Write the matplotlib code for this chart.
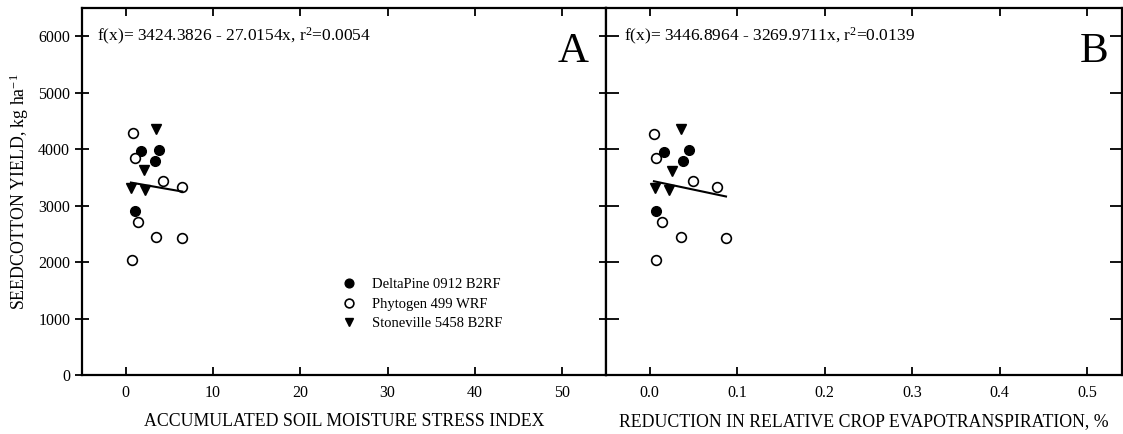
import matplotlib
matplotlib.use('Agg')
import matplotlib.pyplot as plt
import numpy as np

plt.rcParams['font.family'] = ['Liberation Serif', 'DejaVu Serif']
plt.rcParams['mathtext.fontset'] = 'custom'
plt.rcParams['mathtext.rm'] = 'Liberation Serif'
plt.rcParams['mathtext.it'] = 'Liberation Serif:italic'

# Data
# panel A: accumulated soil moisture stress index
dp_asmsi = [1.7, 3.8, 3.35, 1.1]
dp_yield_a = [3959, 3989, 3789, 2907]
ph_asmsi = [0.8, 1.07, 4.23, 6.48, 1.45, 3.5, 6.4, 0.69]
ph_yield_a = [4283, 3842, 3436, 3336, 2718, 2436, 2424, 2035]
st_asmsi = [3.43, 2.13, 0.6, 2.25]
st_yield_a = [4354, 3630, 3306, 3277]

# panel B: reduction in relative crop ET
dp_ret = [0.0165, 0.0447, 0.0382, 0.0066]
dp_yield_b = [3954, 3989, 3789, 2907]
ph_ret = [0.0048, 0.0071, 0.049, 0.0766, 0.0146, 0.0363, 0.0872, 0.0074]
ph_yield_b = [4277, 3836, 3436, 3336, 2718, 2436, 2424, 2035]
st_ret = [0.0363, 0.0249, 0.0059, 0.0226]
st_yield_b = [4354, 3618, 3306, 3277]

# regression fits (intercept, slope, r2)
fit_a = (3424.3826, -27.0154, 0.0054)
fit_b = (3446.8964, -3269.9711, 0.0139)

cultivars = ['DeltaPine 0912 B2RF', 'Phytogen 499 WRF', 'Stoneville 5458 B2RF']

W, H = 1123, 434
fig = plt.figure(figsize=(W / 100, H / 100), dpi=100)
ax1 = fig.add_axes([82 / W, 59 / H, 524 / W, 367 / H])
ax2 = fig.add_axes([606 / W, 59 / H, 516 / W, 367 / H])

ms = 7
panels = [
    (ax1, dp_asmsi, dp_yield_a, ph_asmsi, ph_yield_a, st_asmsi, st_yield_a, fit_a),
    (ax2, dp_ret, dp_yield_b, ph_ret, ph_yield_b, st_ret, st_yield_b, fit_b),
]
for ax, dx, dy, px, py, sx, sy, fit in panels:
    ax.plot(dx, dy, 'o', color='black', ms=ms, ls='none', label=cultivars[0])
    ax.plot(px, py, 'o', mfc='white', mec='black', mew=1.2, ms=ms, ls='none', label=cultivars[1])
    ax.plot(sx, sy, 'v', color='black', ms=ms, ls='none', label=cultivars[2])
    allx = np.array(dx + px + sx)
    xl = np.array([allx.min(), allx.max()])
    ax.plot(xl, fit[0] + fit[1] * xl, color='black', lw=1.5)
    ax.set_ylim(0, 6500)
    ax.set_yticks(range(0, 7000, 1000))
    for s in ax.spines.values():
        s.set_linewidth(1.6)
    ax.tick_params(axis='both', which='both', direction='in', length=6, width=1.3,
                   top=True, right=True, labelsize=11.5)
    ax.tick_params(axis='x', pad=7)
    ax.tick_params(axis='y', which='both', length=9)
    ax.text(0.029 if ax is ax1 else 0.035, 6000,
            'f(x)= %.4f - %.4fx, r$^{2}$=%.4f' % (fit[0], -fit[1], fit[2]),
            transform=ax.get_yaxis_transform(), va='center', ha='left', fontsize=12.5)

ax1.set_xlim(-5, 55)
ax1.set_xticks([0, 10, 20, 30, 40, 50])
ax2.set_xlim(-0.05, 0.54)
ax2.set_xticks([0.0, 0.1, 0.2, 0.3, 0.4, 0.5])
ax2.set_xticklabels(['0.0', '0.1', '0.2', '0.3', '0.4', '0.5'])
ax1.tick_params(axis='y', which='major', direction='inout', length=10)
ax2.tick_params(axis='y', labelleft=False)

ax1.text(0.966, 0.853, 'A', transform=ax1.transAxes, ha='right', va='baseline', fontsize=31)
ax2.text(0.973, 0.853, 'B', transform=ax2.transAxes, ha='right', va='baseline', fontsize=31)

ax1.set_xlabel('ACCUMULATED SOIL MOISTURE STRESS INDEX', fontsize=12.8, labelpad=9)
ax2.set_xlabel('REDUCTION IN RELATIVE CROP EVAPOTRANSPIRATION, %', fontsize=12.8, labelpad=9)
ax1.set_ylabel('SEEDCOTTON YIELD, kg ha$^{-1}$', fontsize=12.8, labelpad=5)

ax1.legend(loc='center left', bbox_to_anchor=(0.47, 0.193), frameon=False, fontsize=10.5,
           handlelength=1.0, handletextpad=1.1, labelspacing=0.42, markerscale=0.9)

fig.savefig('out.png', dpi=100)
